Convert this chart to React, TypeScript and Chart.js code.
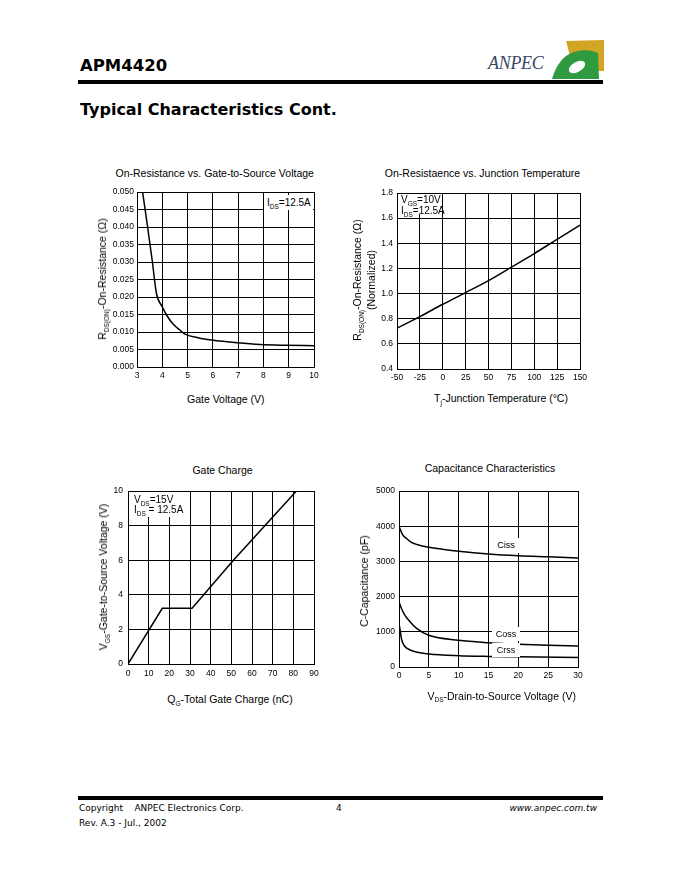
import React, { useEffect, useRef } from "react";
import { Chart, registerables } from "chart.js";

Chart.register(...registerables);

// ---------- Chart 1: On-Resistance vs. Gate-to-Source Voltage ----------
const gateVoltage = [3.22, 3.4, 3.6, 3.77, 4.0, 4.2, 4.41, 4.7, 4.92, 5.44, 5.95, 6.97, 7.87, 8.9, 10.0];
const onResistance = [0.05, 0.041, 0.0305, 0.021, 0.0172, 0.0145, 0.0124, 0.0105, 0.0093, 0.0083, 0.0077, 0.0069, 0.0064, 0.0062, 0.0061];
const gateVoltageTicks = [3, 4, 5, 6, 7, 8, 9, 10];
const onResistanceTicks = [0, 0.005, 0.01, 0.015, 0.02, 0.025, 0.03, 0.035, 0.04, 0.045, 0.05];

// ---------- Chart 2: On-Resistance vs. Junction Temperature ----------
const junctionTemp = [-50, -25, 0, 25, 50, 75, 100, 125, 150];
const normalizedRds = [0.725, 0.817, 0.915, 1.008, 1.103, 1.21, 1.318, 1.432, 1.544];
const junctionTempTicks = [-50, -25, 0, 25, 50, 75, 100, 125, 150];
const normalizedTicks = [0.4, 0.6, 0.8, 1.0, 1.2, 1.4, 1.6, 1.8];

// ---------- Chart 3: Gate Charge ----------
const gateCharge = [0, 16.6, 31, 51, 81.5];
const gateSourceVoltage = [0, 3.22, 3.22, 6, 10];
const gateChargeTicks = [0, 10, 20, 30, 40, 50, 60, 70, 80, 90];
const gateSourceTicks = [0, 2, 4, 6, 8, 10];

// ---------- Chart 4: Capacitance Characteristics ----------
const vdsCiss = [0, 0.6, 1.2, 2, 3, 5, 10, 15, 20, 25, 30];
const ciss = [4000, 3760, 3660, 3550, 3480, 3400, 3290, 3210, 3160, 3130, 3100];
const vdsCoss = [0, 0.4, 0.95, 1.8, 2.9, 5, 10, 15, 20, 25, 30];
const coss = [1850, 1670, 1480, 1295, 1106, 900, 760, 690, 645, 615, 595];
const vdsCrss = [0, 0.22, 0.45, 0.95, 1.8, 2.9, 5, 10, 15, 20, 30];
const crss = [1250, 1010, 775, 590, 490, 425, 370, 320, 300, 290, 270];
const vdsTicks = [0, 5, 10, 15, 20, 25, 30];
const capacitanceTicks = [0, 1000, 2000, 3000, 4000, 5000];

type Series = { x: number[]; y: number[]; smooth: boolean };
type Box = { left: number; top: number; width: number; height: number };

const FONT = "'Liberation Sans', Arial, Helvetica, sans-serif";
const L = 48, R = 16, T = 12, B = 22;

function PlotCanvas(props: {
  box: Box;
  series: Series[];
  xTicks: number[];
  yTicks: number[];
  xFmt: (v: number) => string;
  yFmt: (v: number) => string;
  yPad: number;
  xPad: number;
}) {
  const ref = useRef<HTMLCanvasElement>(null);
  const { box, series, xTicks, yTicks, xFmt, yFmt, yPad, xPad } = props;
  useEffect(() => {
    const chart = new Chart(ref.current as HTMLCanvasElement, {
      type: "line",
      data: {
        datasets: series.map((s) => ({
          data: s.x.map((x, i) => ({ x, y: s.y[i] })),
          borderColor: "#000",
          borderWidth: 1.5,
          pointRadius: 0,
          fill: false,
          tension: 0,
          cubicInterpolationMode: s.smooth ? "monotone" : "default",
        })),
      },
      options: {
        responsive: false,
        animation: false,
        events: [],
        layout: { padding: { top: T, right: R, left: 0, bottom: 0 } },
        plugins: { legend: { display: false }, tooltip: { enabled: false }, title: { display: false } },
        scales: {
          x: {
            type: "linear",
            min: xTicks[0],
            max: xTicks[xTicks.length - 1],
            afterBuildTicks: (s: any) => {
              s.ticks = xTicks.map((v) => ({ value: v }));
            },
            afterFit: (s: any) => {
              s.height = B;
            },
            grid: { color: "#000", lineWidth: 1, drawTicks: false },
            border: { color: "#000", width: 1 },
            ticks: {
              padding: xPad,
              autoSkip: false,
              maxRotation: 0,
              color: "#000",
              font: { family: FONT, size: 8.5 },
              callback: (v: any) => xFmt(Number(v)),
            },
          },
          y: {
            type: "linear",
            min: yTicks[0],
            max: yTicks[yTicks.length - 1],
            afterBuildTicks: (s: any) => {
              s.ticks = yTicks.map((v) => ({ value: v }));
            },
            afterFit: (s: any) => {
              s.width = L;
            },
            grid: { color: "#000", lineWidth: 1, drawTicks: false },
            border: { color: "#000", width: 1 },
            ticks: {
              padding: yPad,
              autoSkip: false,
              color: "#000",
              font: { family: FONT, size: 8.5 },
              callback: (v: any) => yFmt(Number(v)),
            },
          },
        },
      } as any,
    });
    return () => chart.destroy();
  }, []);
  const w = box.width + L + R;
  const h = box.height + T + B;
  return (
    <canvas
      ref={ref}
      width={w}
      height={h}
      style={{ position: "absolute", left: box.left - L, top: box.top - T, width: w, height: h }}
    />
  );
}

const Sub = ({ children }: { children: React.ReactNode }) => (
  <span style={{ fontSize: 6.5, position: "relative", top: 2.5 }}>{children}</span>
);

function Centered(props: { cx: number; cy: number; size?: number; rotate?: boolean; children: React.ReactNode; style?: React.CSSProperties }) {
  const { cx, cy, size = 10.5, rotate, children, style } = props;
  return (
    <div
      style={{
        position: "absolute",
        left: cx,
        top: cy,
        transform: `translate(-50%, -50%)${rotate ? " rotate(-90deg)" : ""}`,
        whiteSpace: "nowrap",
        fontFamily: FONT,
        fontSize: size,
        lineHeight: `${size + 1.5}px`,
        color: "#000",
        textAlign: "center",
        ...style,
      }}
    >
      {children}
    </div>
  );
}

function Note(props: { left: number; top: number; width: number; height: number; lineHeight: number; size?: number; children: React.ReactNode; align?: "left" | "center" }) {
  const { left, top, width, height, lineHeight, size = 10, children, align = "left" } = props;
  return (
    <div
      style={{
        position: "absolute",
        left,
        top,
        width,
        height,
        background: "#fff",
        fontFamily: FONT,
        fontSize: size,
        lineHeight: `${lineHeight}px`,
        color: "#000",
        whiteSpace: "nowrap",
        textAlign: align,
        boxSizing: "border-box",
        paddingLeft: align === "left" ? 3 : 0,
        paddingTop: 1,
      }}
    >
      {children}
    </div>
  );
}

function Logo() {
  return (
    <>
      <div
        style={{
          position: "absolute",
          left: 488,
          top: 54,
          fontFamily: "'Liberation Serif', 'DejaVu Serif', serif",
          fontStyle: "italic",
          fontSize: 18,
          lineHeight: "18px",
          color: "#3a4668",
          letterSpacing: -0.3,
        }}
      >
        ANPEC
      </div>
      <svg width="52" height="39" viewBox="0 0 52 39" style={{ position: "absolute", left: 552, top: 40 }}>
        <path d="M14,1 L52,0 L52,31 L22,31 Z" fill="#d2a623" />
        <path d="M0,39 C4,26 10,16 22,12 C32,9 40,10 46,13 L47,39 Z" fill="#2f9a3f" />
        <ellipse cx="25" cy="27" rx="9" ry="5" transform="rotate(-30 25 27)" fill="#fff" />
      </svg>
    </>
  );
}

const c1: Box = { left: 137, top: 192, width: 177, height: 175 };
const c2: Box = { left: 397, top: 193, width: 183, height: 176 };
const c3: Box = { left: 128, top: 491, width: 186, height: 173 };
const c4: Box = { left: 399, top: 491, width: 179, height: 176 };

export default function App() {
  return (
    <div
      style={{
        position: "absolute",
        left: 0,
        top: 0,
        width: 680,
        height: 880,
        background: "#fff",
        overflow: "hidden",
        fontFamily: "'DejaVu Sans', sans-serif",
      }}
    >
      {/* Header */}
      <div style={{ position: "absolute", left: 80, top: 58, fontWeight: "bold", fontSize: 16.5, lineHeight: "16.5px", color: "#000" }}>
        APM4420
      </div>
      <Logo />
      <div style={{ position: "absolute", left: 78, top: 80, width: 525, height: 4, background: "#000" }} />
      <div style={{ position: "absolute", left: 80, top: 102, fontWeight: "bold", fontSize: 16, lineHeight: "16px", color: "#000" }}>
        Typical Characteristics Cont.
      </div>

      {/* Chart 1 */}
      <Centered cx={214.7} cy={173.3}>On-Resistance vs. Gate-to-Source Voltage</Centered>
      <PlotCanvas
        box={c1}
        series={[{ x: gateVoltage, y: onResistance, smooth: true }]}
        xTicks={gateVoltageTicks}
        yTicks={onResistanceTicks}
        xFmt={(v) => String(v)}
        yFmt={(v) => v.toFixed(3)}
        yPad={3}
        xPad={4}
      />
      <Note left={264} top={195} width={49} height={15} lineHeight={13}>
        I<Sub>DS</Sub>=12.5A
      </Note>
      <Centered cx={225.8} cy={399.3}>Gate Voltage (V)</Centered>
      <Centered cx={103} cy={279} rotate>
        R<Sub>DS(ON)</Sub>-On-Resistance (Ω)
      </Centered>

      {/* Chart 2 */}
      <Centered cx={482.5} cy={172.7}>On-Resistaence vs. Junction Temperature</Centered>
      <PlotCanvas
        box={c2}
        series={[{ x: junctionTemp, y: normalizedRds, smooth: true }]}
        xTicks={junctionTempTicks}
        yTicks={normalizedTicks}
        xFmt={(v) => String(v)}
        yFmt={(v) => v.toFixed(1)}
        yPad={4}
        xPad={4}
      />
      <Note left={398} top={194} width={44} height={20} lineHeight={10}>
        V<Sub>GS</Sub>=10V
        <br />
        I<Sub>DS</Sub>=12.5A
      </Note>
      <Centered cx={501} cy={399}>
        T<Sub>j</Sub>-Junction Temperature (°C)
      </Centered>
      <Centered cx={364} cy={280} rotate style={{ lineHeight: "12px" }}>
        R<Sub>DS(ON)</Sub>-On-Resistance (Ω)
        <br />
        (Normalized)
      </Centered>

      {/* Chart 3 */}
      <Centered cx={222.5} cy={470}>Gate Charge</Centered>
      <PlotCanvas
        box={c3}
        series={[{ x: gateCharge, y: gateSourceVoltage, smooth: false }]}
        xTicks={gateChargeTicks}
        yTicks={gateSourceTicks}
        xFmt={(v) => String(v)}
        yFmt={(v) => String(v)}
        yPad={5}
        xPad={5}
      />
      <Note left={131} top={492} width={50} height={25} lineHeight={9}>
        <div style={{ paddingTop: 2 }}>
          V<Sub>DS</Sub>=15V
          <br />
          I<Sub>DS</Sub> = 12.5A
        </div>
      </Note>
      <Centered cx={230} cy={700}>
        Q<Sub>G</Sub>-Total Gate Charge (nC)
      </Centered>
      <Centered cx={103.5} cy={576.5} rotate>
        V<Sub>GS</Sub>-Gate-to-Source Voltage (V)
      </Centered>

      {/* Chart 4 */}
      <Centered cx={490} cy={467.7}>Capacitance Characteristics</Centered>
      <PlotCanvas
        box={c4}
        series={[
          { x: vdsCiss, y: ciss, smooth: true },
          { x: vdsCoss, y: coss, smooth: true },
          { x: vdsCrss, y: crss, smooth: true },
        ]}
        xTicks={vdsTicks}
        yTicks={capacitanceTicks}
        xFmt={(v) => String(v)}
        yFmt={(v) => String(v)}
        yPad={4}
        xPad={4}
      />
      <Note left={493} top={538} width={26} height={15} lineHeight={13} size={9} align="center">
        Ciss
      </Note>
      <Note left={492} top={627} width={28} height={14} lineHeight={13} size={9} align="center">
        Coss
      </Note>
      <Note left={492} top={643} width={28} height={14} lineHeight={13} size={9} align="center">
        Crss
      </Note>
      <Centered cx={501.7} cy={696.7}>
        V<Sub>DS</Sub>-Drain-to-Source Voltage (V)
      </Centered>
      <Centered cx={364} cy={581} rotate>
        C-Capacitance (pF)
      </Centered>

      {/* Footer */}
      <div style={{ position: "absolute", left: 78, top: 796, width: 525, height: 4, background: "#000" }} />
      <div style={{ position: "absolute", left: 79, top: 804, fontSize: 9, lineHeight: "9px", color: "#000", whiteSpace: "pre" }}>
        Copyright{"    "}ANPEC Electronics Corp.
      </div>
      <div style={{ position: "absolute", left: 336, top: 804, fontSize: 9, lineHeight: "9px", color: "#000" }}>4</div>
      <div
        style={{
          position: "absolute",
          right: 680 - 597,
          top: 804,
          fontSize: 9,
          lineHeight: "9px",
          color: "#000",
          fontStyle: "italic",
        }}
      >
        www.anpec.com.tw
      </div>
      <div style={{ position: "absolute", left: 79, top: 819, fontSize: 9, lineHeight: "9px", color: "#000", whiteSpace: "pre" }}>
        Rev. A.3 - Jul., 2002
      </div>
    </div>
  );
}
